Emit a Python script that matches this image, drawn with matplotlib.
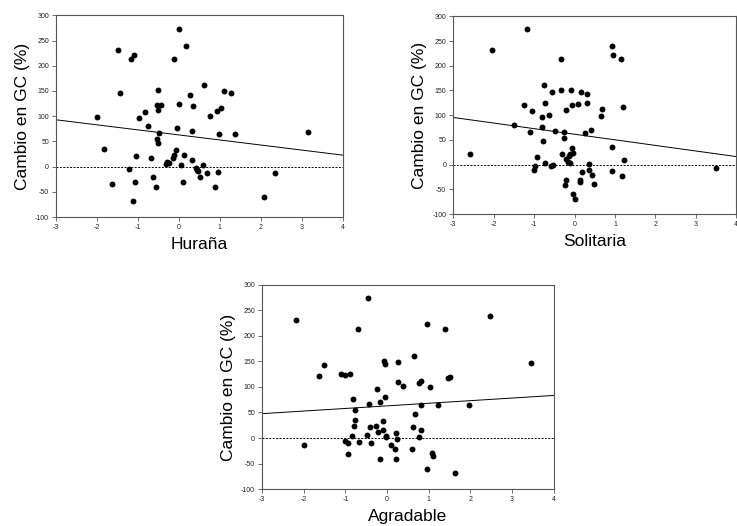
import matplotlib
matplotlib.use("Agg")
import matplotlib.pyplot as plt

plt.rcParams['font.family'] = ['Liberation Sans', 'DejaVu Sans']
plt.rcParams['axes.unicode_minus'] = False

# Huraña panel
hurana_x = [0.00, 0.17, -1.49, -1.09, -1.18, -0.13, -1.44, -0.52, 0.62, 0.26,
            1.09, 1.27, -1.99, -0.97, -0.83, -0.54, -0.43, -0.50, 0.00, 0.34,
            0.77, 0.92, 1.02, -0.75, -0.05, -0.48, -0.53, -0.51, 0.33, 0.98,
            1.38, 3.15, -1.84, -1.05, -0.67, -0.08, -0.11, -0.15, 0.13, -0.28,
            -0.25, -0.32, 0.33, 0.05, 0.59, -1.22, 0.41, 0.44, 0.46, 0.68,
            0.95, 2.35, 0.52, -1.63, -1.07, -0.62, -0.57, 0.09, 0.89, 2.08,
            -1.13]
hurana_y = [273, 240, 231, 222, 213, 213, 146, 151, 161, 142,
            150, 146, 99, 97, 109, 123, 123, 113, 125, 121,
            101, 111, 117, 80, 76, 66, 54, 47, 70, 65,
            65, 68, 36, 22, 17, 34, 23, 18, 24, 10,
            7, 5, 13, 3, 3, -4, -2, -7, -9, -13,
            -10, -13, -20, -34, -30, -21, -40, -30, -41, -59,
            -68]
hurana_fit = (63, -10.0)   # intercept, slope

# Solitaria panel
solitaria_x = [-1.17, -2.04, -0.33, 0.93, 0.94, 1.14, -0.76, -0.56, -0.33, -0.09,
               0.15, 0.30, -1.26, -1.05, -0.72, -0.64, -0.80, -0.21, -0.07, 0.09,
               0.31, 0.68, 0.66, 1.21, -1.50, -0.81, -1.10, -0.48, -0.25, -0.27,
               0.25, 0.40, -0.78, 0.93, -2.59, -0.92, -0.32, -0.06, -0.05, -0.12,
               -0.13, -0.21, -0.17, -0.12, -0.72, 1.22, -0.54, -0.57, -0.97, -1.01,
               0.36, 0.36, 0.42, 0.19, 0.93, 1.17, -0.22, 0.13, 0.13, -0.24,
               0.48, -0.04, 0.02, 3.50]
solitaria_y = [274, 232, 213, 240, 222, 213, 161, 146, 150, 151,
               146, 142, 121, 109, 124, 101, 97, 111, 121, 122,
               125, 112, 99, 117, 80, 76, 65, 68, 65, 54,
               64, 70, 48, 35, 21, 15, 22, 34, 23, 22,
               17, 11, 6, 3, 3, 10, 0, -2, -3, -10,
               2, -11, -20, -14, -13, -22, -31, -31, -35, -42,
               -40, -60, -69, -7]
solitaria_fit = (61.5, -11.3)

# Agradable panel
agradable_x = [-2.19, -0.45, -0.69, 0.95, 2.46, 1.40, 0.65, 3.46, -1.51, -1.63,
               -1.11, -1.00, -0.88, -0.07, -0.05, 0.27, 0.26, 0.38, -0.25, 0.77,
               0.81, 1.03, 1.45, 1.52, -0.81, -0.04, -0.18, -0.44, 0.81, 1.21,
               1.97, -0.78, 0.67, -0.78, -0.10, -0.79, -0.41, -0.26, -0.09, -0.22,
               0.22, 0.62, 0.81, -0.85, -0.49, -0.03, -0.02, 0.77, 0.23, -1.00,
               -0.93, -0.67, -0.38, 0.10, 0.19, 0.60, -1.99, -0.94, 1.07, 1.09,
               -0.18, 0.22, 0.95, 1.63]
agradable_y = [232, 274, 213, 223, 240, 213, 161, 147, 143, 121,
               125, 123, 125, 151, 146, 149, 110, 101, 97, 108,
               112, 99, 117, 120, 76, 80, 70, 67, 65, 65,
               65, 54, 48, 35, 34, 23, 21, 24, 15, 12,
               9, 22, 16, 4, 6, 4, 1, 2, -2, -5,
               -10, -8, -10, -13, -21, -22, -14, -31, -30, -35,
               -41, -42, -61, -69]
agradable_fit = (63, 5.1)

x_ticks = [-3, -2, -1, 0, 1, 2, 3, 4]
y_ticks = [-100, -50, 0, 50, 100, 150, 200, 250, 300]

fig = plt.figure(figsize=(7.37, 5.26), dpi=100)

panels = [
    ([0.076, 0.587, 0.389, 0.384], hurana_x, hurana_y, hurana_fit, 'Huraña'),
    ([0.615, 0.593, 0.384, 0.376], solitaria_x, solitaria_y, solitaria_fit, 'Solitaria'),
    ([0.3555, 0.0703, 0.396, 0.388], agradable_x, agradable_y, agradable_fit, 'Agradable'),
]

for rect, xs, ys, fit, name in panels:
    ax = fig.add_axes(rect)
    ax.scatter(xs, ys, s=18, color='black', zorder=3, linewidths=0)
    b0, b1 = fit
    ax.plot([-3, 4], [b0 + b1 * -3, b0 + b1 * 4], color='black', lw=0.7)
    ax.axhline(0, color='black', lw=0.7, ls=(0, (2, 1.5)))
    ax.set_xlim(-3, 4)
    ax.set_ylim(-100, 300)
    ax.set_xticks(x_ticks)
    ax.set_yticks(y_ticks)
    ax.tick_params(labelsize=5, length=3, width=0.6, pad=2, direction='out',
                   color='#555555', labelcolor='#222222')
    for sp in ax.spines.values():
        sp.set_linewidth(0.8)
        sp.set_color('#555555')
    ax.set_xlabel(name, fontsize=12.5, labelpad=4)
    ax.set_ylabel('Cambio en GC (%)', fontsize=12.5, labelpad=4)

fig.savefig('out.png', dpi=100)
